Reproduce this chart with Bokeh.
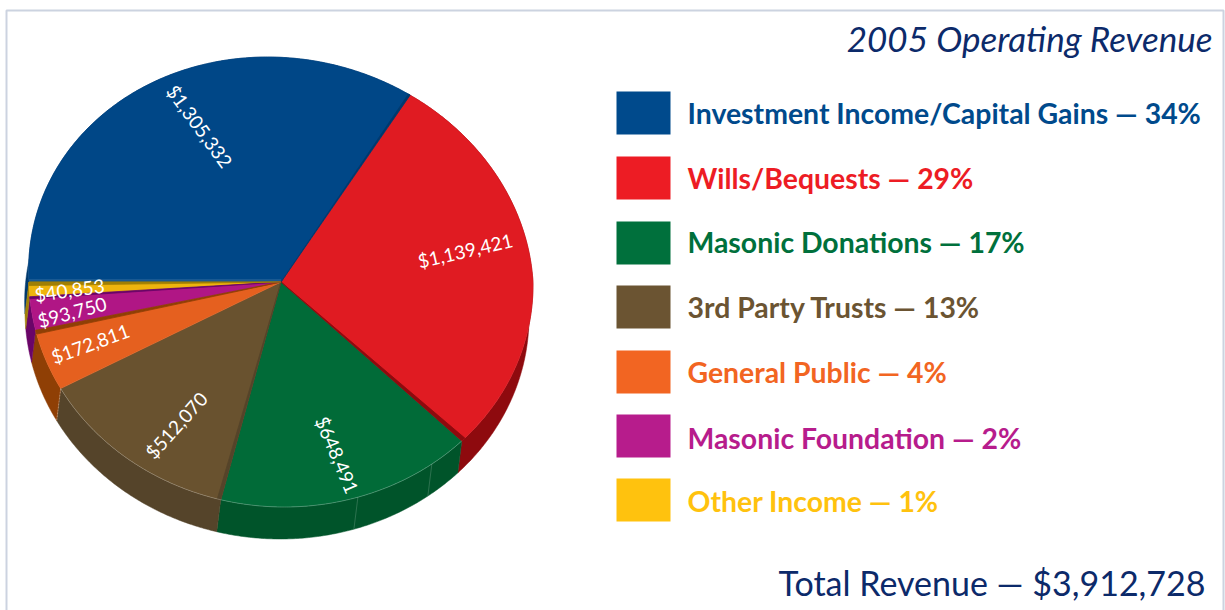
import math
from bokeh.plotting import figure
from bokeh.models import Range1d
from bokeh.core.properties import value
from bokeh.embed import file_html
from bokeh.resources import INLINE

categories = ["Investment Income/Capital Gains", "Wills/Bequests", "Masonic Donations",
              "3rd Party Trusts", "General Public", "Masonic Foundation", "Other Income"]
amounts = [1305332, 1139421, 648491, 512070, 172811, 93750, 40853]
amount_labels = ["$1,305,332", "$1,139,421", "$648,491", "$512,070", "$172,811", "$93,750", "$40,853"]
percents = [34, 29, 17, 13, 4, 2, 1]
title_text = "2005 Operating Revenue"
total_text = "Total Revenue \u2014 $3,912,728"

legend_colors = ["#004a8c", "#ed1c24", "#00703c", "#6b5432", "#f26522", "#b71c8c", "#ffc20e"]
face_colors = ["#004787", "#e01b22", "#016b38", "#69522f", "#e5601f", "#b01685", "#eeb40d"]
wall_colors = ["#003a6e", "#8e0a0e", "#00542a", "#55442a", "#8f3f05", "#6a0568", "#a07f05"]
navy = "#0c2a6a"

# layout
CX, CY, RX, RY = 280.5, 281.5, 252.0, 225.0
SHEAR_UP, SHEAR_DOWN = 0.06, 0.015
WALL_DX, WALL_DY = -4.0, 32.0
label_r = [0.764, 0.744, 0.80, 0.76, 0.805, 0.84, 0.84]
label_dt = [-5, 3.4, 1, 5, -0.5, 1, 0.5]
label_rot = [-54, 13, -67, 48, 20, 15, 8]
legend_text_y = [112.5, 177.5, 241.5, 306.5, 371.5, 437.5, 500.5]
# inner strip: (which edge, angular width in degrees)
strip = [("end", 0.5), ("end", 1.0), None, ("start", 0.8), ("end", 1.0), ("end", 0.5), ("end", 0.9)]

FONT = "Lato"


def pt(t, dx=0.0, dy=0.0):
    s0 = math.sin(math.radians(t))
    w = t - 5.0 * s0 * s0 if s0 > 0 else t
    c, s = math.cos(math.radians(w)), math.sin(math.radians(w))
    k = SHEAR_UP if s > 0 else SHEAR_DOWN
    return (CX + RX * c - k * RY * s + dx, CY - RY * s + dy)


def arc(t0, t1, dx=0.0, dy=0.0):
    n = max(2, int(abs(t1 - t0) * 2))
    return [pt(t0 + (t1 - t0) * i / n, dx, dy) for i in range(n + 1)]


p = figure(width=1225, height=610, output_backend="svg", toolbar_location=None,
           x_range=Range1d(0, 1225), y_range=Range1d(610, 0),
           x_axis_location=None, y_axis_location=None,
           min_border=0, outline_line_color=None, background_fill_color="white",
           border_fill_color="white")
p.grid.visible = False

# frame
p.line([6, 6, 1223, 1223], [610, 10, 10, 610], line_color="#ccd3e0", line_width=2)

total = sum(amounts)
edges = [180.0]
for v in amounts:
    edges.append(edges[-1] - 360.0 * v / total)

# outer walls
for i in range(len(amounts)):
    a = arc(edges[i], edges[i + 1])
    b = arc(edges[i + 1], edges[i], WALL_DX, WALL_DY)
    poly = a + b
    p.patch([q[0] for q in poly], [q[1] for q in poly], fill_color=wall_colors[i],
            line_color=wall_colors[i], line_width=0.5)

# top faces
for i in range(len(amounts)):
    poly = [(CX, CY)] + arc(edges[i], edges[i + 1])
    p.patch([q[0] for q in poly], [q[1] for q in poly], fill_color=face_colors[i],
            line_color=face_colors[i], line_width=0.5)

# inner strips
for i, st in enumerate(strip):
    if st is None:
        continue
    side, w = st
    if side == "end":
        e0, e1 = edges[i + 1], edges[i + 1] + w
    else:
        e0, e1 = edges[i], edges[i] - w
    poly = [(CX, CY)] + arc(e0, e1)
    p.patch([q[0] for q in poly], [q[1] for q in poly], fill_color=wall_colors[i],
            line_color=wall_colors[i], line_width=0.8)

# faint highlight lines
hl = arc(edges[2], edges[4])
p.line([q[0] for q in hl], [q[1] for q in hl], line_color="#ffffff", line_alpha=0.35, line_width=0.7)
p.line([pt(180)[0], CX], [pt(180)[1] - 2, CY - 2], line_color="#ffffff", line_alpha=0.25, line_width=0.8)
for t in (-73, -54):
    a, b = pt(t), pt(t, WALL_DX, WALL_DY)
    p.line([a[0], b[0]], [a[1], b[1]], line_color="#ffffff", line_alpha=0.25, line_width=0.7)
a, b = pt(edges[4]), pt(edges[4], WALL_DX, WALL_DY)
p.line([a[0], b[0]], [a[1], b[1]], line_color="#ffffff", line_alpha=0.5, line_width=0.7, line_dash="2 1")

# value labels on slices
for i, lab in enumerate(amount_labels):
    mid = (edges[i] + edges[i + 1]) / 2 + label_dt[i]
    x = CX + RX * label_r[i] * math.cos(math.radians(mid))
    y = CY - RY * label_r[i] * math.sin(math.radians(mid))
    p.text([x], [y], text=[lab], angle=[label_rot[i]], angle_units="deg", text_color="white",
           text_font=value(FONT), text_font_size="19px", text_align="center", text_baseline="middle")

# legend
row_top = [91, 156, 221, 285, 350, 414, 478]
row_h = 43
for i, cat in enumerate(categories):
    p.quad(left=[616], right=[670], top=[row_top[i]], bottom=[row_top[i] + row_h],
           fill_color=legend_colors[i], line_color=None)
    p.text([687], [legend_text_y[i]], text=[f"{cat} \u2014 {percents[i]}%"],
           text_color=legend_colors[i], text_font=value(FONT), text_font_style="bold",
           text_font_size="28.4px", text_align="left", text_baseline="middle")

p.text([1212], [37], text=[title_text], text_color=navy, text_font=value(FONT), text_font_style="italic",
       text_font_size="35px", text_align="right", text_baseline="middle")
p.text([1205], [581.5], text=[total_text], text_color=navy, text_font=value(FONT),
       text_font_size="34px", text_align="right", text_baseline="middle")

open("out.html", "w").write(file_html(p, INLINE))
